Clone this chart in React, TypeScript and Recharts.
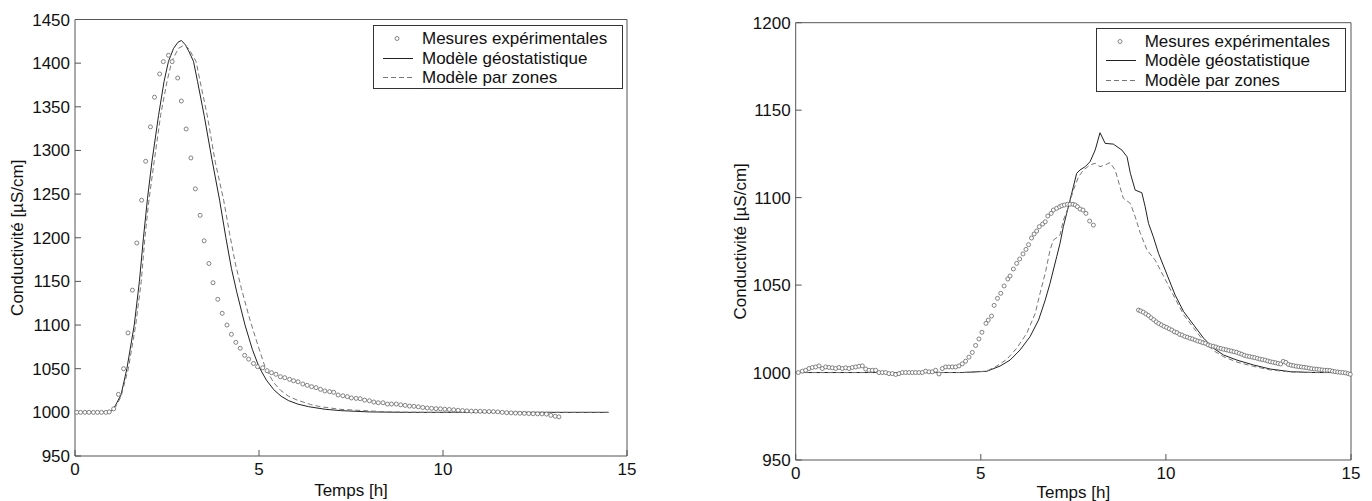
import { ComposedChart, Line, Scatter, XAxis, YAxis, Legend } from "recharts";

const FONT = '"Liberation Sans", Arial, Helvetica, sans-serif';
const FRAME = "#555";
const INK = "#111";

// axes
const xTicks = [0, 5, 10, 15];
const leftYTicks = [950, 1000, 1050, 1100, 1150, 1200, 1250, 1300, 1350, 1400, 1450];
const rightYTicks = [950, 1000, 1050, 1100, 1150, 1200];
const legendNames = ["Mesures expérimentales", "Modèle géostatistique", "Modèle par zones"];

// left panel: [temps h, conductivité µS/cm]
const leftMeasures: [number, number][] = [
  [0.05, 1000], [0.15, 1000], [0.27, 1000], [0.38, 1000], [0.5, 1000], [0.61, 1000],
  [0.72, 1000], [0.84, 1000], [0.93, 1000.5], [1.05, 1004], [1.18, 1020.6], [1.32, 1050],
  [1.44, 1091], [1.56, 1140], [1.68, 1194], [1.81, 1243], [1.92, 1287.6], [2.05, 1327],
  [2.16, 1361], [2.3, 1387.6], [2.4, 1401.7], [2.54, 1409], [2.64, 1401.7], [2.79, 1383],
  [2.89, 1356.6], [3.02, 1324.6], [3.15, 1291.4], [3.27, 1256], [3.4, 1225.7], [3.51, 1196.5],
  [3.64, 1170.5], [3.75, 1148.5], [3.88, 1129.5], [4.0, 1113.5], [4.13, 1100], [4.25, 1089.4],
  [4.37, 1080.2], [4.49, 1073.4], [4.61, 1065.3], [4.72, 1061], [4.85, 1056], [4.96, 1052.3],
  [5.1, 1051], [5.22, 1047.7], [5.34, 1045.4], [5.46, 1043.6], [5.58, 1040.8], [5.7, 1039.7],
  [5.83, 1037.8], [5.94, 1036.2], [6.06, 1035], [6.19, 1032.5], [6.31, 1031], [6.43, 1029.4],
  [6.55, 1028.3], [6.67, 1026.4], [6.79, 1024.5], [6.92, 1023.7], [7.03, 1023], [7.15, 1019.9],
  [7.28, 1019], [7.4, 1018], [7.51, 1016.5], [7.64, 1016], [7.75, 1015.6], [7.87, 1014],
  [8.0, 1013.3], [8.12, 1011.8], [8.24, 1011], [8.37, 1011], [8.49, 1009.5], [8.6, 1009.5],
  [8.73, 1009.5], [8.85, 1008.6], [8.97, 1008], [9.09, 1007.2], [9.21, 1006.9], [9.33, 1006.3],
  [9.45, 1005.6], [9.57, 1005], [9.69, 1004.6], [9.81, 1004.2], [9.93, 1004], [10.05, 1003.6],
  [10.17, 1003.3], [10.29, 1002.9], [10.41, 1002.4], [10.53, 1002], [10.65, 1001.7], [10.77, 1001.4],
  [10.89, 1001.3], [11.01, 1001.2], [11.13, 1001], [11.25, 1000.9], [11.37, 1000.8], [11.49, 1000.5],
  [11.61, 1000], [11.73, 999.6], [11.85, 999.4], [11.97, 999.2], [12.09, 999], [12.21, 998.8],
  [12.33, 998.6], [12.45, 998.4], [12.57, 998.3], [12.69, 998.2], [12.81, 998], [12.93, 996.5],
  [13.05, 995.5], [13.15, 994.8],
];

const leftGeo: [number, number][] = [
  [0, 1000], [0.5, 1000], [0.9, 1000.5], [1.0, 1002], [1.1, 1008], [1.25, 1020], [1.41, 1050],
  [1.61, 1100], [1.75, 1150], [1.86, 1200], [1.97, 1245], [2.09, 1287], [2.27, 1340], [2.42, 1379],
  [2.54, 1402], [2.68, 1417], [2.8, 1424], [2.89, 1426], [3.0, 1421], [3.1, 1413], [3.22, 1402],
  [3.33, 1379], [3.51, 1340], [3.72, 1290], [3.93, 1243], [4.1, 1200], [4.25, 1165], [4.4, 1137],
  [4.62, 1100], [4.82, 1072], [5.0, 1052], [5.2, 1037], [5.4, 1026], [5.6, 1018.5], [5.8, 1013.5],
  [6.05, 1009.5], [6.35, 1006.5], [6.8, 1003.5], [7.21, 1002], [8.0, 1000.5], [9.0, 1000], [14.5, 1000],
];

const leftZones: [number, number][] = [
  [0, 1000], [0.9, 1000.5], [1.0, 1002], [1.1, 1006], [1.25, 1018], [1.45, 1050], [1.65, 1100],
  [1.8, 1150], [1.9, 1200], [2.0, 1240], [2.15, 1287], [2.33, 1341], [2.5, 1379], [2.63, 1402],
  [2.81, 1417], [2.99, 1421], [3.1, 1416], [3.29, 1402], [3.4, 1379], [3.59, 1341], [3.81, 1287],
  [4.04, 1243], [4.2, 1205], [4.36, 1170], [4.52, 1142], [4.76, 1105], [5.0, 1073], [5.18, 1050],
  [5.4, 1034], [5.58, 1025.5], [5.8, 1018.5], [6.04, 1014], [6.4, 1009], [6.67, 1006.5], [7.2, 1003.5],
  [7.84, 1002], [8.5, 1000.5], [9.5, 1000], [14.5, 1000],
];

// right panel
const rightMeasures: [number, number][] = [
  [0.07, 1000], [0.18, 1000.8], [0.27, 1001.3], [0.36, 1002.3], [0.45, 1002.9], [0.54, 1003.2],
  [0.63, 1003.8], [0.72, 1002.3], [0.81, 1003.2], [0.9, 1002.9], [0.99, 1002.7], [1.08, 1002.3],
  [1.17, 1002.9], [1.26, 1002.3], [1.35, 1002.7], [1.44, 1002.3], [1.53, 1002.9], [1.62, 1003.2],
  [1.71, 1003.6], [1.8, 1003.8], [1.89, 1002], [1.98, 1001.3], [2.07, 1001.3], [2.16, 1001.3],
  [2.25, 1000], [2.34, 1000], [2.43, 1000], [2.52, 999.4], [2.61, 999.4], [2.7, 998.9],
  [2.79, 999.4], [2.88, 1000], [2.97, 1000], [3.06, 1000], [3.15, 1000], [3.24, 1000],
  [3.33, 1000], [3.42, 1000], [3.51, 1000.8], [3.6, 1000.4], [3.69, 1000.4], [3.78, 1001.3],
  [3.87, 999.2], [3.96, 1002.3], [4.05, 1003.2], [4.14, 1003.2], [4.23, 1003.2], [4.32, 1003.2],
  [4.41, 1003.8], [4.5, 1005], [4.59, 1006.5], [4.68, 1008.8], [4.77, 1011.5], [4.86, 1015.5],
  [4.95, 1019.2], [5.03, 1023], [5.14, 1028.1], [5.2, 1030], [5.29, 1032.3], [5.36, 1038.4],
  [5.45, 1042.4], [5.54, 1045.3], [5.63, 1049.5], [5.73, 1053.5], [5.79, 1055.2], [5.88, 1059.2],
  [5.97, 1062.4], [6.05, 1064.9], [6.14, 1067.8], [6.22, 1070.4], [6.29, 1073.1], [6.37, 1076.9],
  [6.44, 1079.2], [6.51, 1080.9], [6.58, 1083.4], [6.67, 1084.9], [6.74, 1086.2], [6.81, 1089.5],
  [6.9, 1091], [6.96, 1092.9], [7.05, 1093.9], [7.13, 1094.8], [7.19, 1095.4], [7.26, 1095.8],
  [7.34, 1096.2], [7.41, 1096.2], [7.49, 1096.2], [7.55, 1095.8], [7.61, 1094.8], [7.68, 1093.5],
  [7.76, 1092.9], [7.84, 1091], [7.94, 1086.6], [8.04, 1084.3],
  [9.26, 1035.7], [9.32, 1035.2], [9.39, 1034.5], [9.46, 1033.5], [9.53, 1032.6], [9.6, 1031.3],
  [9.67, 1030.2], [9.74, 1029], [9.81, 1028], [9.88, 1027.2], [9.95, 1026.4], [10.02, 1025.8],
  [10.09, 1025], [10.16, 1024.3], [10.23, 1023.3], [10.3, 1022.8], [10.37, 1021.8], [10.44, 1021.4],
  [10.51, 1020.6], [10.58, 1020.2], [10.65, 1019.6], [10.72, 1019.2], [10.79, 1018.6], [10.86, 1018],
  [10.93, 1017.6], [11.0, 1017], [11.07, 1016.7], [11.14, 1015.8], [11.21, 1015.3], [11.28, 1015],
  [11.35, 1014.6], [11.42, 1014], [11.49, 1013.7], [11.56, 1013.3], [11.63, 1013], [11.7, 1012.6],
  [11.77, 1012.3], [11.84, 1011.9], [11.91, 1011.6], [11.98, 1011], [12.05, 1010.5], [12.12, 1009.8],
  [12.19, 1009.4], [12.26, 1009.1], [12.33, 1008.8], [12.4, 1008.5], [12.47, 1008.1], [12.54, 1007.7],
  [12.61, 1007.4], [12.68, 1007.1], [12.75, 1006.6], [12.82, 1006.2], [12.89, 1005.9], [12.96, 1005.6],
  [13.03, 1005.2], [13.1, 1004.9], [13.17, 1006.4], [13.24, 1005.8], [13.31, 1004.6], [13.38, 1004.2],
  [13.45, 1003.9], [13.52, 1003.6], [13.59, 1003.4], [13.66, 1003.2], [13.73, 1003], [13.8, 1002.8],
  [13.87, 1002.5], [13.94, 1002.2], [14.01, 1002], [14.08, 1001.9], [14.15, 1001.7], [14.22, 1001.5],
  [14.29, 1001.3], [14.36, 1001.3], [14.43, 1001.2], [14.5, 1000.8], [14.57, 1000.5], [14.64, 1000.3],
  [14.71, 1000.1], [14.78, 1000], [14.85, 999.8], [14.92, 999.4], [14.98, 999],
];

const rightGeo: [number, number][] = [
  [0, 1000], [4.5, 1000], [5.16, 1000.7], [5.52, 1003.7], [5.79, 1007.1], [6.06, 1012.9],
  [6.33, 1020.5], [6.56, 1030], [6.74, 1041.4], [6.87, 1051], [6.96, 1058.6], [7.05, 1066.2],
  [7.14, 1073.9], [7.23, 1083.4], [7.32, 1091], [7.41, 1098.6], [7.5, 1106.2], [7.59, 1113.9],
  [7.68, 1115.8], [7.82, 1117.7], [7.95, 1120.5], [8.09, 1127.2], [8.22, 1137.1], [8.36, 1131],
  [8.58, 1130.6], [8.81, 1127.2], [8.95, 1123.4], [9.04, 1113.9], [9.17, 1104.3], [9.35, 1102.8],
  [9.44, 1094.8], [9.53, 1085.3], [9.66, 1077.6], [9.8, 1068.2], [9.98, 1058.6], [10.25, 1044.3],
  [10.48, 1034.8], [10.75, 1027.2], [11.02, 1019.6], [11.29, 1013.8], [11.56, 1010], [11.92, 1007.1],
  [12.37, 1004.3], [12.82, 1002], [13.36, 1000.5], [14.0, 1000], [15.0, 1000],
];

const rightZones: [number, number][] = [
  [0, 1000], [4.5, 1000], [5.16, 1000.8], [5.43, 1003.7], [5.7, 1007.5], [5.97, 1013.9],
  [6.24, 1022.4], [6.47, 1033.8], [6.6, 1045.3], [6.74, 1056.7], [6.87, 1070], [6.96, 1075.7],
  [7.14, 1078.6], [7.23, 1087.1], [7.37, 1094.8], [7.5, 1104.3], [7.64, 1111.9], [7.77, 1115.7],
  [7.95, 1118.7], [8.09, 1119.6], [8.22, 1117.7], [8.36, 1118.7], [8.49, 1120], [8.63, 1115.8],
  [8.76, 1106.2], [8.85, 1099.6], [9.04, 1096.7], [9.17, 1089.1], [9.31, 1079.6], [9.49, 1070],
  [9.71, 1064.3], [9.85, 1058.6], [10.2, 1044.3], [10.48, 1033], [10.75, 1025.5], [11.02, 1018],
  [11.29, 1012.5], [11.56, 1009], [11.92, 1006], [12.37, 1003.5], [12.82, 1001.5], [13.36, 1000.3],
  [14.0, 1000], [15.0, 1000],
];

const toRows = (pts: [number, number][]) => pts.map(([t, v]) => ({ t, v }));

const dot = (p: any) => (
  <circle cx={p.cx} cy={p.cy} r={2} fill="#fff" stroke="#666" strokeWidth={0.8} />
);

function LegendBox() {
  return (
    <div
      style={{
        width: 250,
        height: 64,
        boxSizing: "border-box",
        border: "1px solid #333",
        background: "#fff",
        paddingTop: 3,
        fontFamily: FONT,
        fontSize: 17,
        color: INK,
      }}
    >
      {legendNames.map((name, i) => (
        <div key={name} style={{ display: "flex", alignItems: "center", height: 19.5 }}>
          <svg width={48} height={19} style={{ flex: "none" }}>
            {i === 0 && <circle cx={23} cy={9.5} r={2} fill="#fff" stroke="#666" strokeWidth={0.8} />}
            {i === 1 && <line x1={9} x2={39} y1={9.5} y2={9.5} stroke="#222" strokeWidth={1} />}
            {i === 2 && (
              <line x1={9} x2={39} y1={9.5} y2={9.5} stroke="#777" strokeWidth={1} strokeDasharray="5 3" />
            )}
          </svg>
          <span style={{ whiteSpace: "nowrap", lineHeight: "19px" }}>{name}</span>
        </div>
      ))}
    </div>
  );
}

type PanelProps = {
  width: number;
  yAxisWidth: number;
  margin: { top: number; right: number; bottom: number; left: number };
  xAxisHeight: number;
  xLabelOffset: number;
  yLabelOffset: number;
  yDomain: [number, number];
  yTicks: number[];
  measures: [number, number][];
  geo: [number, number][];
  zones: [number, number][];
  legendLeft: number;
  legendTop: number;
};

function Panel(props: PanelProps) {
  const tickText = { fill: INK, fontSize: 17, fontFamily: FONT };
  return (
    <ComposedChart width={props.width} height={501} margin={props.margin}>
      <XAxis
        xAxisId="b"
        type="number"
        dataKey="t"
        domain={[0, 15]}
        ticks={xTicks}
        height={props.xAxisHeight}
        stroke={FRAME}
        tickSize={-6}
        tickMargin={13}
        tick={tickText}
        label={{
          value: "Temps [h]",
          position: "insideBottom",
          offset: props.xLabelOffset,
          fill: INK,
          fontSize: 17,
          fontFamily: FONT,
        }}
      />
      <XAxis
        xAxisId="t"
        orientation="top"
        mirror
        type="number"
        domain={[0, 15]}
        ticks={xTicks}
        tick={false}
        tickSize={6}
        stroke={FRAME}
      />
      <YAxis
        yAxisId="l"
        type="number"
        dataKey="v"
        domain={props.yDomain}
        ticks={props.yTicks}
        width={props.yAxisWidth}
        stroke={FRAME}
        tickSize={-6}
        tickMargin={11}
        tick={tickText}
        label={{
          value: "Conductivité [µS/cm]",
          angle: -90,
          position: "insideLeft",
          offset: props.yLabelOffset,
          fill: INK,
          fontSize: 17,
          fontFamily: FONT,
          style: { textAnchor: "middle" },
        }}
      />
      <YAxis
        yAxisId="r"
        orientation="right"
        mirror
        type="number"
        domain={props.yDomain}
        ticks={props.yTicks}
        tick={false}
        tickSize={6}
        stroke={FRAME}
      />
      <Scatter
        xAxisId="b"
        yAxisId="l"
        data={toRows(props.measures)}
        dataKey="v"
        shape={dot}
        isAnimationActive={false}
      />
      <Line
        xAxisId="b"
        yAxisId="l"
        data={toRows(props.geo)}
        dataKey="v"
        type="linear"
        stroke="#222"
        strokeWidth={1}
        dot={false}
        activeDot={false}
        isAnimationActive={false}
      />
      <Line
        xAxisId="b"
        yAxisId="l"
        data={toRows(props.zones)}
        dataKey="v"
        type="linear"
        stroke="#777"
        strokeWidth={1}
        strokeDasharray="5 3"
        dot={false}
        activeDot={false}
        isAnimationActive={false}
      />
      <Legend
        layout="vertical"
        align="center"
        verticalAlign="middle"
        wrapperStyle={{ left: props.legendLeft, top: props.legendTop }}
        content={() => <LegendBox />}
      />
    </ComposedChart>
  );
}

export default function App() {
  return (
    <div style={{ position: "absolute", left: 0, top: 0, width: 1372, height: 501, background: "#fff" }}>
      <div style={{ position: "absolute", left: 0, top: 0 }}>
        <Panel
          width={660}
          yAxisWidth={75}
          margin={{ top: 19.5, right: 33, bottom: 0, left: 0 }}
          xAxisHeight={45}
          xLabelOffset={5}
          yLabelOffset={17}
          yDomain={[950, 1450]}
          yTicks={leftYTicks}
          measures={leftMeasures}
          geo={leftGeo}
          zones={leftZones}
          legendLeft={373}
          legendTop={25}
        />
      </div>
      <div style={{ position: "absolute", left: 700, top: 0 }}>
        <Panel
          width={672}
          yAxisWidth={95.7}
          margin={{ top: 22.7, right: 21, bottom: 0, left: 0 }}
          xAxisHeight={41}
          xLabelOffset={3}
          yLabelOffset={40}
          yDomain={[950, 1200]}
          yTicks={rightYTicks}
          measures={rightMeasures}
          geo={rightGeo}
          zones={rightZones}
          legendLeft={395.7}
          legendTop={27.7}
        />
      </div>
    </div>
  );
}
